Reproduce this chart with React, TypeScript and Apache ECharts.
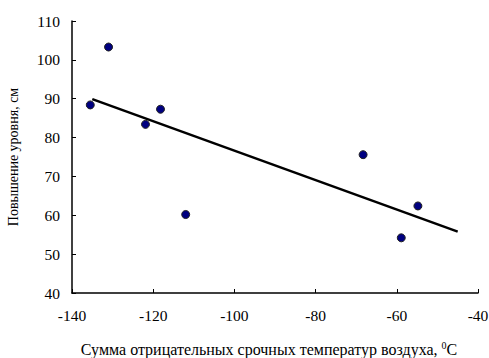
import React, { useEffect, useRef } from "react";
import * as echarts from "echarts";

const xValues = [-135.5, -131.0, -121.9, -118.2, -112.0, -68.3, -58.9, -54.8];
const yValues = [88.4, 103.3, 83.4, 87.3, 60.2, 75.6, 54.2, 62.4];
const trendX = [-135, -45];
const trendY = [89.9, 55.8];

const xTitle = "Сумма отрицательных срочных температур воздуха, ";
const yTitle = "Повышение уровня, см";

export default function App() {
  const ref = useRef<HTMLDivElement>(null);
  useEffect(() => {
    if (!ref.current) return;
    const chart = echarts.init(ref.current, null, { renderer: "svg" });
    const font = "'Liberation Serif', 'Times New Roman', serif";
    chart.setOption({
      animation: false,
      backgroundColor: "#ffffff",
      grid: { left: 72, right: 11, top: 21, bottom: 65, outerBoundsMode: "none", containLabel: false },
      xAxis: {
        type: "value",
        min: -140,
        max: -40,
        interval: 20,
        name: xTitle + "{sup|0}C",
        nameLocation: "middle",
        nameGap: 47,
        nameTextStyle: {
          fontFamily: font,
          fontSize: 16,
          color: "#000",
          padding: [0, 12, 0, 0],
          rich: {
            sup: { fontFamily: font, fontSize: 10, color: "#000", padding: [0, 0, 9, 0] },
          },
        },
        axisLine: { show: true, onZero: false, lineStyle: { color: "#000", width: 1.5 } },
        axisTick: { show: true, inside: true, length: 4, lineStyle: { color: "#000" } },
        axisLabel: { fontFamily: font, fontSize: 15.5, color: "#000", margin: 14 },
        splitLine: { show: false },
      },
      yAxis: {
        type: "value",
        min: 40,
        max: 110,
        interval: 10,
        name: yTitle,
        nameLocation: "middle",
        nameGap: 52,
        nameTextStyle: { fontFamily: font, fontSize: 14, color: "#000" },
        axisLine: { show: true, onZero: false, lineStyle: { color: "#000", width: 1.5 } },
        axisTick: { show: true, inside: true, length: 4, lineStyle: { color: "#000" } },
        axisLabel: { fontFamily: font, fontSize: 15.5, color: "#000", margin: 12 },
        splitLine: { show: false },
      },
      series: [
        {
          type: "line",
          data: trendX.map((x, i) => [x, trendY[i]]),
          showSymbol: false,
          symbol: "none",
          lineStyle: { color: "#000", width: 2.5 },
          z: 2,
        },
        {
          type: "scatter",
          data: xValues.map((x, i) => [x, yValues[i]]),
          symbol: "circle",
          symbolSize: 8,
          itemStyle: { color: "#000080", borderColor: "#222", borderWidth: 1, opacity: 1 },
          z: 3,
        },
      ],
    });
    return () => chart.dispose();
  }, []);
  return (
    <div
      ref={ref}
      style={{ position: "fixed", left: 0, top: 0, width: 489, height: 358, background: "#fff" }}
    />
  );
}
